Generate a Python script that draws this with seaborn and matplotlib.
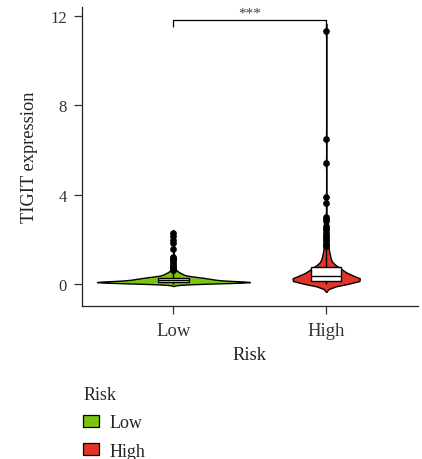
import numpy as np
import pandas as pd
import matplotlib
matplotlib.use("Agg")
import matplotlib.pyplot as plt
import seaborn as sns
from matplotlib.patches import Patch

# TIGIT expression by risk group: binned values with counts, plus individual high values
low_values = [0.00, 0.03, 0.06, 0.08, 0.10, 0.13, 0.16, 0.19, 0.22, 0.25, 0.28,
              0.31, 0.35, 0.40, 0.45, 0.50, 0.56, 0.62]
low_counts = [8, 16, 22, 26, 22, 17, 15, 14, 13, 11, 10, 9, 8, 6, 5, 4, 3, 2]
low_extra = [0.70, 0.75, 0.80, 0.90, 1.00, 1.05, 1.10, 1.15, 1.20, 1.55, 1.85,
             1.95, 2.15, 2.30]

high_values = [0.00, 0.05, 0.10, 0.15, 0.20, 0.25, 0.30, 0.35, 0.40, 0.45, 0.50,
               0.55, 0.60, 0.65, 0.70, 0.75, 0.80, 0.90, 1.00, 1.10, 1.20, 1.30,
               1.40, 1.50]
high_counts = [8, 14, 16, 18, 16, 13, 11, 9, 8, 7, 7, 6, 6, 6, 6, 5, 5, 4, 4, 3,
               3, 3, 2, 2]
high_extra = [1.60, 1.65, 1.70, 1.75, 1.80, 1.90, 2.00, 2.10, 2.20, 2.30, 2.40,
              2.50, 2.60, 2.80, 2.90, 3.00, 3.60, 3.90, 5.40, 6.50, 11.30]

groups = ["Low", "High"]
colors = {"Low": "#7BC40F", "High": "#E3342A"}
y_ticks = [0, 4, 8, 12]
signif = "***"

low = np.concatenate([np.repeat(low_values, low_counts), low_extra])
high = np.concatenate([np.repeat(high_values, high_counts), high_extra])
df = pd.DataFrame({
    "Risk": ["Low"] * len(low) + ["High"] * len(high),
    "expr": np.concatenate([low, high]),
})
df["Risk"] = pd.Categorical(df["Risk"], categories=groups, ordered=True)

sns.set_theme(style="ticks")
plt.rcParams["font.family"] = ["Liberation Serif", "DejaVu Serif"]

fig = plt.figure(figsize=(4.22, 4.60), dpi=100)
ax = fig.add_axes([0.194, 0.333, 0.796, 0.650])

# one violin per group so each keeps its own smoothing and maximum width
violin_style = {"Low": dict(width=1.0, bw_adjust=0.33),
                "High": dict(width=0.44, bw_adjust=0.36)}
for g in groups:
    sns.violinplot(data=df[df["Risk"] == g], x="Risk", y="expr", order=groups,
                   color=colors[g], saturation=1, density_norm="width",
                   cut=2.5, inner=None, linewidth=1.0, linecolor="black",
                   ax=ax, **violin_style[g])
sns.boxplot(data=df, x="Risk", y="expr", order=groups, color="white",
            saturation=1, width=0.2, linewidth=1.0, linecolor="black",
            whis=1.5, capprops=dict(linewidth=0),
            flierprops=dict(marker="o", markerfacecolor="black",
                            markeredgecolor="black", markersize=3.8),
            ax=ax)

# significance bracket
ax.plot([0, 0, 1, 1], [11.5, 11.8, 11.8, 11.5], color="black", lw=0.9,
        solid_capstyle="butt")
ax.text(0.5, 11.85, signif, ha="center", va="bottom", fontsize=11,
        color="#444444")

ax.set_xlim(-0.6, 1.6)
ax.set_ylim(-0.98, 12.4)
ax.set_yticks(y_ticks)
ax.set_xlabel("Risk", fontsize=13.3, color="#222222", labelpad=5)
ax.set_ylabel("TIGIT expression", fontsize=13.2, color="#222222", labelpad=9)
ax.tick_params(axis="both", length=5.8, width=0.9, color="#333333",
               labelcolor="#333333", pad=5)
ax.tick_params(axis="x", labelsize=13.5, pad=6)
ax.tick_params(axis="y", labelsize=12)
for side in ["top", "right"]:
    ax.spines[side].set_visible(False)
for side in ["left", "bottom"]:
    ax.spines[side].set_linewidth(0.9)
    ax.spines[side].set_color("#222222")

handles = [Patch(facecolor=colors[g], edgecolor="black", linewidth=0.9, label=g)
           for g in groups]
leg = fig.legend(handles=handles, title="Risk", loc="upper left",
                 bbox_to_anchor=(0.180, 0.174), frameon=False, fontsize=13,
                 title_fontsize=13, handlelength=0.85, handleheight=0.65,
                 handletextpad=0.6, labelspacing=0.62, borderaxespad=0)
leg._legend_box.align = "left"

fig.savefig("out.png", dpi=100)
